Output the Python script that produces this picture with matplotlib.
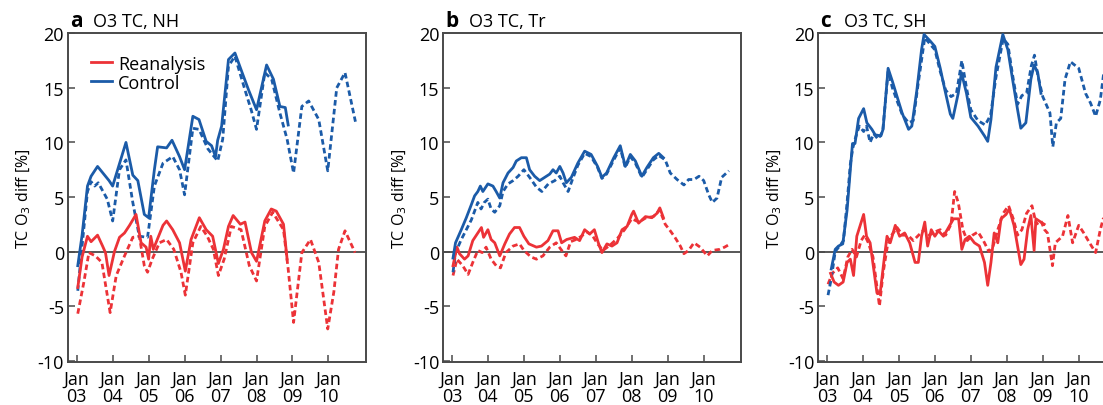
import matplotlib
matplotlib.use("Agg")
import matplotlib.pyplot as plt

plt.rcParams['font.family'] = ['Open Sans', 'DejaVu Sans']

# tick positions (Jan of each year) and labels
years = [2003, 2004, 2005, 2006, 2007, 2008, 2009, 2010]
year_labels = ['Jan\n03', 'Jan\n04', 'Jan\n05', 'Jan\n06', 'Jan\n07', 'Jan\n08', 'Jan\n09', 'Jan\n10']

# ---- panel a: NH ----
a_ctl_x = [2003.03, 2003.15, 2003.3, 2003.4, 2003.58, 2003.9, 2004.0, 2004.37, 2004.56, 2004.7, 2004.88, 2005.0,
           2005.16, 2005.25, 2005.5, 2005.65, 2005.86, 2006.0, 2006.23, 2006.4, 2006.6, 2006.75, 2006.86, 2006.92,
           2007.03, 2007.22, 2007.4, 2007.6, 2007.78, 2008.0, 2008.28, 2008.47, 2008.65, 2008.8, 2008.88]
a_ctl_y = [-1.3, 1.5, 6.0, 6.9, 7.8, 6.5, 6.0, 10.0, 7.0, 6.5, 3.4, 3.1,
           7.5, 9.6, 9.5, 10.2, 8.7, 7.5, 12.4, 12.1, 10.1, 9.7, 8.7, 10.2,
           11.5, 17.6, 18.2, 16.4, 14.8, 13.0, 17.1, 15.8, 13.3, 13.2, 11.6]
a_ctl_dx = [2003.03, 2003.15, 2003.3, 2003.4, 2003.5, 2003.6, 2003.85, 2004.0, 2004.19, 2004.37, 2004.56, 2004.74,
            2004.97, 2005.16, 2005.4, 2005.67, 2005.86, 2006.0, 2006.23, 2006.4, 2006.65, 2006.92, 2007.06, 2007.22,
            2007.4, 2007.68, 2007.85, 2008.0, 2008.23, 2008.42, 2008.65, 2008.85, 2009.03, 2009.26, 2009.45, 2009.73,
            2009.98, 2010.23, 2010.46, 2010.75]
a_ctl_dy = [-3.6, 0.5, 5.5, 6.4, 6.0, 6.3, 4.8, 2.8, 7.5, 8.4, 4.5, 1.4,
            1.3, 6.0, 8.1, 8.7, 7.5, 5.2, 11.3, 11.2, 9.4, 8.3, 10.3, 17.0,
            17.9, 14.8, 13.0, 11.2, 16.4, 15.8, 12.7, 10.3, 7.2, 13.3, 13.8, 12.1,
            7.4, 15.0, 16.4, 11.9]
a_rea_x = [2003.03, 2003.15, 2003.3, 2003.4, 2003.58, 2003.72, 2003.8, 2003.9, 2004.05, 2004.19, 2004.33, 2004.47,
           2004.65, 2004.79, 2004.93, 2005.0, 2005.06, 2005.13, 2005.4, 2005.5, 2005.67, 2005.86, 2006.02, 2006.18,
           2006.41, 2006.6, 2006.78, 2006.94, 2007.08, 2007.22, 2007.35, 2007.55, 2007.68, 2007.86, 2008.0, 2008.23,
           2008.41, 2008.55, 2008.75, 2008.85]
a_rea_y = [-3.3, -0.5, 1.4, 0.9, 1.5, 0.5, -0.1, -2.2, 0.0, 1.3, 1.7, 2.4,
           3.4, 0.8, 0.4, -0.7, 1.4, 0.2, 2.4, 2.8, 2.0, 0.8, -1.8, 1.1,
           3.1, 2.0, 1.4, -1.1, 0.2, 2.3, 3.3, 2.5, 2.7, -0.1, -0.9, 2.8,
           3.9, 3.7, 2.5, -0.7]
a_rea_dx = [2003.03, 2003.2, 2003.34, 2003.52, 2003.7, 2003.93, 2004.1, 2004.33, 2004.56, 2004.74, 2004.88, 2004.97,
            2005.1, 2005.3, 2005.5, 2005.7, 2005.9, 2006.02, 2006.23, 2006.45, 2006.63, 2006.8, 2006.94, 2007.1,
            2007.3, 2007.57, 2007.8, 2008.0, 2008.23, 2008.45, 2008.75, 2008.88, 2009.03, 2009.26, 2009.5, 2009.73,
            2009.98, 2010.15, 2010.28, 2010.46, 2010.74]
a_rea_dy = [-5.7, -2.8, -0.1, -0.4, -1.0, -5.6, -2.2, -0.4, 1.3, 1.4, -1.3, -1.9,
            -0.7, 0.8, 1.1, 0.2, -1.9, -4.0, 0.8, 2.3, 1.4, 0.2, -2.2, -0.7,
            2.3, 2.0, -1.3, -2.7, 2.3, 3.6, 2.0, -1.6, -6.5, -0.1, 1.1, -1.0,
            -7.1, -3.7, 0.2, 1.9, -0.1]

# ---- panel b: Tropics ----
b_ctl_x = [2003.03, 2003.1, 2003.26, 2003.4, 2003.54, 2003.63, 2003.72, 2003.79, 2003.86, 2004.0, 2004.14, 2004.23,
           2004.33, 2004.42, 2004.56, 2004.7, 2004.79, 2004.93, 2005.07, 2005.16, 2005.3, 2005.44, 2005.58, 2005.72,
           2005.81, 2005.9, 2006.0, 2006.09, 2006.18, 2006.32, 2006.5, 2006.69, 2006.87, 2007.05, 2007.17, 2007.3,
           2007.5, 2007.68, 2007.82, 2007.96, 2008.1, 2008.28, 2008.42, 2008.6, 2008.75, 2008.88]
b_ctl_y = [-0.6, 0.8, 2.0, 3.1, 4.3, 5.1, 5.5, 6.0, 5.5, 6.2, 6.0, 5.5,
           4.9, 6.3, 7.2, 7.7, 8.3, 8.6, 8.6, 7.5, 6.9, 6.5, 6.8, 7.1,
           7.5, 7.2, 7.8, 7.2, 6.3, 6.8, 8.1, 9.2, 8.9, 7.8, 6.8, 7.2,
           8.6, 9.7, 7.8, 8.9, 8.3, 6.9, 7.7, 8.6, 9.0, 8.6]
b_ctl_dx = [2003.03, 2003.1, 2003.26, 2003.4, 2003.54, 2003.63, 2003.72, 2003.81, 2003.9, 2004.0, 2004.09, 2004.19,
            2004.33, 2004.42, 2004.56, 2004.7, 2004.84, 2005.0, 2005.16, 2005.35, 2005.5, 2005.68, 2005.86, 2006.0,
            2006.09, 2006.23, 2006.35, 2006.5, 2006.69, 2006.87, 2007.05, 2007.17, 2007.3, 2007.5, 2007.68, 2007.82,
            2007.96, 2008.1, 2008.28, 2008.42, 2008.6, 2008.75, 2008.93, 2009.07, 2009.26, 2009.45, 2009.58, 2009.73,
            2009.87, 2010.0, 2010.14, 2010.24, 2010.37, 2010.5, 2010.7]
b_ctl_dy = [-1.9, -0.1, 1.1, 2.0, 2.9, 3.7, 4.5, 3.9, 4.5, 4.8, 3.9, 3.6,
            4.2, 5.5, 6.2, 6.5, 6.9, 7.5, 6.8, 5.9, 5.5, 6.2, 6.5, 6.9,
            6.3, 5.5, 6.6, 7.9, 9.0, 8.7, 7.7, 6.7, 7.1, 8.4, 9.5, 7.7,
            8.7, 8.1, 6.8, 7.5, 8.4, 8.8, 8.4, 7.2, 6.6, 6.1, 6.6, 6.6,
            6.9, 6.5, 5.2, 4.5, 4.9, 6.8, 7.4]
b_rea_x = [2003.03, 2003.14, 2003.21, 2003.35, 2003.45, 2003.58, 2003.72, 2003.82, 2003.88, 2004.0, 2004.09, 2004.19,
           2004.33, 2004.47, 2004.6, 2004.74, 2004.88, 2005.0, 2005.14, 2005.35, 2005.49, 2005.67, 2005.81, 2005.95,
           2006.05, 2006.19, 2006.41, 2006.55, 2006.69, 2006.83, 2006.96, 2007.07, 2007.17, 2007.31, 2007.45, 2007.59,
           2007.73, 2007.87, 2008.0, 2008.05, 2008.19, 2008.38, 2008.56, 2008.7, 2008.78, 2008.88]
b_rea_y = [-1.3, 0.4, -0.2, -0.7, -0.4, 1.0, 1.7, 2.2, 1.3, 2.0, 1.1, 0.8,
           -0.4, 0.7, 1.6, 2.2, 2.2, 1.4, 0.7, 0.4, 0.5, 1.0, 1.9, 1.9,
           0.8, 1.1, 1.3, 1.0, 2.0, 1.6, 2.0, 0.8, -0.1, 0.7, 0.5, 0.8,
           2.0, 2.3, 3.4, 3.7, 2.6, 3.2, 3.1, 3.5, 4.0, 3.1]
b_rea_dx = [2003.03, 2003.14, 2003.3, 2003.45, 2003.58, 2003.72, 2003.84, 2003.95, 2004.09, 2004.23, 2004.35, 2004.5,
            2004.7, 2004.88, 2005.0, 2005.2, 2005.35, 2005.53, 2005.72, 2005.9, 2006.03, 2006.17, 2006.3, 2006.45,
            2006.6, 2006.75, 2006.9, 2007.05, 2007.2, 2007.4, 2007.6, 2007.8, 2008.0, 2008.2, 2008.4, 2008.6,
            2008.78, 2008.93, 2009.07, 2009.2, 2009.35, 2009.45, 2009.58, 2009.73, 2009.9, 2010.1, 2010.24, 2010.45,
            2010.58, 2010.74]
b_rea_dy = [-2.2, -0.7, -1.3, -2.1, -1.0, 0.1, -0.1, 0.4, -0.7, -1.3, -1.5, -0.1,
            0.5, 0.7, 0.1, -0.5, -0.7, -0.4, 0.4, 0.8, 0.2, -0.4, 0.9, 1.1,
            1.4, 1.8, 1.5, 0.7, 0.1, 0.6, 1.2, 2.0, 3.0, 2.7, 3.1, 3.2,
            3.8, 2.5, 1.9, 1.3, 0.5, -0.2, 0.1, 0.8, 0.4, -0.4, 0.1, 0.2,
            0.4, 0.7]

# ---- panel c: SH ----
c_ctl_x = [2003.12, 2003.23, 2003.32, 2003.44, 2003.56, 2003.65, 2003.71, 2003.78, 2003.88, 2004.02, 2004.11, 2004.25,
           2004.34, 2004.5, 2004.56, 2004.7, 2004.82, 2004.95, 2005.09, 2005.27, 2005.36, 2005.5, 2005.63, 2005.7,
           2005.87, 2006.0, 2006.15, 2006.28, 2006.43, 2006.5, 2006.65, 2006.74, 2006.88, 2007.0, 2007.2, 2007.38,
           2007.47, 2007.56, 2007.7, 2007.89, 2008.03, 2008.16, 2008.3, 2008.39, 2008.53, 2008.67, 2008.76, 2008.86,
           2008.95]
c_ctl_y = [-1.6, 0.2, 0.5, 0.7, 3.8, 7.5, 9.9, 9.9, 12.2, 13.1, 11.8, 11.2,
           10.7, 10.6, 11.2, 16.8, 15.6, 14.2, 12.7, 11.2, 11.5, 14.8, 18.5, 19.9,
           19.3, 18.8, 16.8, 14.8, 12.6, 12.2, 14.5, 16.4, 14.5, 12.3, 11.5, 10.6,
           10.1, 12.1, 16.9, 19.9, 18.5, 15.8, 13.0, 11.3, 11.8, 15.8, 17.1, 16.4,
           14.5]
c_ctl_dx = [2003.03, 2003.12, 2003.23, 2003.35, 2003.46, 2003.56, 2003.65, 2003.72, 2003.8, 2003.9, 2004.02, 2004.1,
            2004.2, 2004.3, 2004.42, 2004.55, 2004.7, 2004.82, 2004.95, 2005.1, 2005.27, 2005.4, 2005.52, 2005.65,
            2005.72, 2005.87, 2006.0, 2006.15, 2006.3, 2006.45, 2006.6, 2006.75, 2006.88, 2007.0, 2007.2, 2007.4,
            2007.55, 2007.7, 2007.9, 2008.03, 2008.16, 2008.3, 2008.42, 2008.55, 2008.68, 2008.77, 2008.86, 2009.0,
            2009.2, 2009.28, 2009.38, 2009.5, 2009.62, 2009.77, 2010.0, 2010.19, 2010.33, 2010.47, 2010.6, 2010.7,
            2010.8]
c_ctl_dy = [-4.0, -2.5, 0.0, 0.5, 1.0, 4.5, 8.0, 9.5, 10.5, 11.5, 11.0, 11.5,
            10.0, 10.8, 10.3, 11.0, 16.5, 15.0, 13.8, 12.5, 11.8, 12.0, 15.0, 18.0,
            19.6, 19.0, 18.5, 16.5, 14.8, 14.2, 14.5, 17.5, 15.0, 13.0, 12.0, 11.6,
            12.5, 16.0, 19.5, 19.0, 16.2, 13.5, 14.3, 14.5, 17.0, 18.0, 16.2, 14.2,
            12.7, 9.6, 11.8, 12.2, 15.8, 17.4, 16.8, 14.5, 13.6, 12.4, 13.9, 16.5,
            16.6]
c_rea_x = [2003.1, 2003.2, 2003.32, 2003.45, 2003.56, 2003.65, 2003.74, 2003.83, 2004.02, 2004.1, 2004.2, 2004.3,
           2004.39, 2004.48, 2004.58, 2004.67, 2004.76, 2004.9, 2005.02, 2005.16, 2005.3, 2005.45, 2005.54, 2005.63,
           2005.72, 2005.8, 2005.9, 2006.0, 2006.1, 2006.24, 2006.38, 2006.52, 2006.66, 2006.75, 2006.84, 2006.96,
           2007.1, 2007.24, 2007.38, 2007.47, 2007.56, 2007.65, 2007.75, 2007.84, 2007.98, 2008.07, 2008.2, 2008.3,
           2008.39, 2008.48, 2008.58, 2008.67, 2008.76, 2008.81, 2008.9, 2009.04]
c_rea_y = [-2.0, -2.8, -3.1, -2.8, -1.0, -0.7, -2.2, 1.4, 3.4, 1.4, 0.8, -1.6,
           -3.8, -3.8, -1.0, 1.4, 0.8, 2.4, 1.4, 1.7, 0.8, -1.0, -1.0, 1.4,
           2.7, 0.5, 2.0, 1.4, 1.9, 1.4, 2.2, 3.0, 3.0, 0.2, 1.1, 1.4,
           0.8, 0.5, -1.0, -3.1, -1.0, 1.7, 0.8, 3.0, 3.4, 3.9, 2.4, 0.5,
           -1.2, -0.7, 2.0, 3.3, 0.1, 3.0, 2.8, 2.5]
c_rea_dx = [2003.03, 2003.15, 2003.3, 2003.45, 2003.58, 2003.7, 2003.82, 2003.95, 2004.05, 2004.15, 2004.28, 2004.38,
            2004.46, 2004.56, 2004.68, 2004.8, 2004.95, 2005.1, 2005.25, 2005.4, 2005.55, 2005.7, 2005.85, 2006.0,
            2006.15, 2006.3, 2006.45, 2006.55, 2006.65, 2006.78, 2006.9, 2007.05, 2007.2, 2007.35, 2007.5, 2007.62,
            2007.75, 2007.9, 2008.05, 2008.18, 2008.3, 2008.42, 2008.55, 2008.7, 2008.82, 2008.95, 2009.05, 2009.13,
            2009.27, 2009.35, 2009.55, 2009.7, 2009.83, 2010.0, 2010.14, 2010.3, 2010.47, 2010.6, 2010.68, 2010.8]
c_rea_dy = [-3.0, -2.0, -1.5, -2.5, -0.5, 0.2, -0.5, 1.0, 1.5, 0.8, -0.5, -3.0,
            -5.0, -2.0, 0.5, 1.5, 2.2, 1.5, 1.5, 1.0, 1.5, 2.0, 1.5, 1.8,
            2.0, 1.5, 2.5, 5.5, 4.5, 2.0, 1.0, 1.5, 1.8, 1.0, 0.0, 0.5,
            2.0, 3.5, 4.2, 3.0, 1.5, 2.0, 3.5, 4.2, 2.5, 2.8, 2.0, 1.7,
            -1.3, 0.8, 1.4, 3.3, 0.8, 2.4, 1.7, 0.8, -0.1, 2.0, 3.0, 3.2]

RED = '#ec3237'
BLUE = '#1b5ba8'
GREY = '#4a4a4a'

fig = plt.figure(figsize=(11.03, 4.06), dpi=100)

panels = [
    ('a', 'O3 TC, NH', 0.0617, (a_ctl_x, a_ctl_y), (a_ctl_dx, a_ctl_dy), (a_rea_x, a_rea_y), (a_rea_dx, a_rea_dy)),
    ('b', 'O3 TC, Tr', 0.4019, (b_ctl_x, b_ctl_y), (b_ctl_dx, b_ctl_dy), (b_rea_x, b_rea_y), (b_rea_dx, b_rea_dy)),
    ('c', 'O3 TC, SH', 0.7419, (c_ctl_x, c_ctl_y), (c_ctl_dx, c_ctl_dy), (c_rea_x, c_rea_y), (c_rea_dx, c_rea_dy)),
]

for letter, title, left, ctl, ctl_d, rea, rea_d in panels:
    ax = fig.add_axes([left, 0.1067, 0.2700, 0.8100])
    ax.axhline(0, color=GREY, lw=1.3, zorder=1)

    # dashed first, solid on top
    ax.plot(rea_d[0], rea_d[1], color=RED, lw=2.0, dashes=(2.0, 1.2), zorder=2)
    ax.plot(ctl_d[0], ctl_d[1], color=BLUE, lw=2.0, dashes=(2.0, 1.2), zorder=2)
    ax.plot(rea[0], rea[1], color=RED, lw=2.0, label='Reanalysis', zorder=3)
    ax.plot(ctl[0], ctl[1], color=BLUE, lw=2.0, label='Control', zorder=3)

    ax.set_xlim(2002.76, 2011.04)
    ax.set_ylim(-10.1, 20.05)
    ax.set_xticks(years)
    ax.set_xticklabels(year_labels, linespacing=0.9)
    ax.set_yticks([-10, -5, 0, 5, 10, 15, 20])
    ax.set_yticklabels(['-10', '-5', '0', '5', '10', '15', '20'])
    ax.tick_params(direction='in', length=5, width=1.1, color=GREY, labelsize=13, pad=3)
    ax.tick_params(axis='x', pad=6)
    for sp in ax.spines.values():
        sp.set_color(GREY)
        sp.set_linewidth(1.4)
    ax.set_ylabel('TC O$_3$ diff [%]', fontsize=11.5, labelpad=3)

    ax.text(0.006, 1.022, letter, transform=ax.transAxes, fontsize=15, fontweight='bold', va='baseline')
    ax.text(0.085, 1.022, title, transform=ax.transAxes, fontsize=13, va='baseline')

    if letter == 'a':
        ax.legend(loc='upper left', bbox_to_anchor=(0.035, 0.972), frameon=False, fontsize=13,
                  handlelength=1.15, handletextpad=0.35, labelspacing=0.05, borderaxespad=0.3)

fig.savefig('out.png', dpi=100)
